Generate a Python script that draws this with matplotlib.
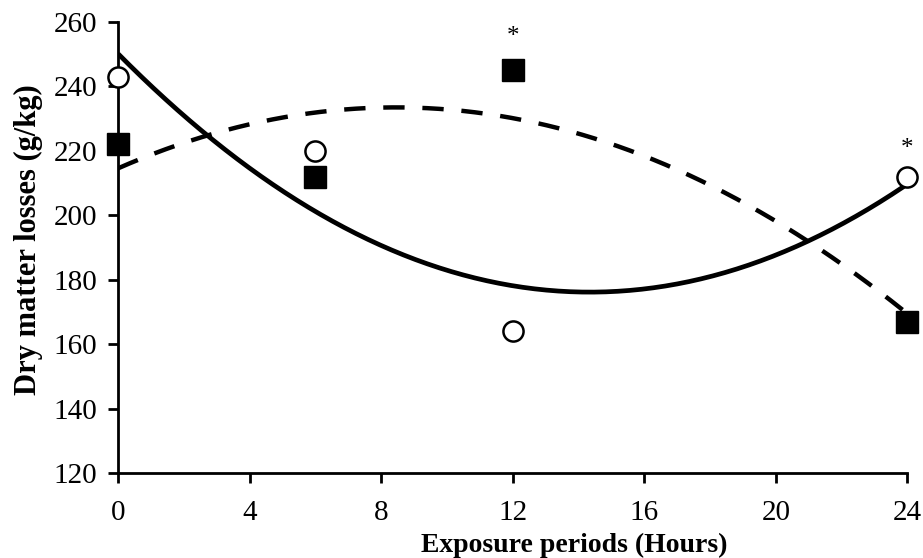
import numpy as np
import matplotlib
matplotlib.use('Agg')
import matplotlib.pyplot as plt

plt.rcParams['font.family'] = ['Liberation Serif', 'DejaVu Serif']

# 暴露时间（小时）
hours = [0, 6, 12, 24]
# 空心圆组
circle_vals = [243, 220, 164, 212]
# 实心方块组
square_vals = [222, 212, 245, 167]
# 显著性标记 (x, 所属序列)
star_hours = [12, 24]
star_series = ['square', 'circle']

fig = plt.figure(figsize=(9.23, 5.58), dpi=100)
ax = fig.add_axes([0.128, 0.152, 0.855, 0.809])

# 二次多项式趋势线
xx = np.linspace(0, 24, 200)
pc = np.polyfit(hours, circle_vals, 2)
ps = np.polyfit(hours, square_vals, 2)
ax.plot(xx, np.polyval(pc, xx), color='black', lw=3.4, solid_capstyle='butt', zorder=2)
ax.plot(xx, np.polyval(ps, xx), color='black', lw=3.2, dashes=(4.8, 4.0), zorder=2)

ax.plot(hours, square_vals, 's', ms=16, color='black', mec='black', zorder=3, clip_on=False)
ax.plot(hours, circle_vals, 'o', ms=14.5, mfc='white', mec='black', mew=1.8, zorder=3, clip_on=False)

for h, s in zip(star_hours, star_series):
    vals = square_vals if s == 'square' else circle_vals
    off = 7 if s == 'square' else 5
    y = vals[hours.index(h)]
    ax.text(h, y + off, '*', ha='center', va='bottom', fontsize=18)

ax.set_xlim(0, 24)
ax.set_ylim(120, 260)
ax.set_xticks(range(0, 25, 4))
ax.set_yticks(range(120, 261, 20))
for side in ['top', 'right']:
    ax.spines[side].set_visible(False)
for side in ['left', 'bottom']:
    ax.spines[side].set_linewidth(2)
ax.tick_params(direction='out', length=7, width=2, labelsize=21)
ax.tick_params(axis='x', pad=12)
ax.tick_params(axis='y', pad=8)

ax.set_xlabel('Exposure periods (Hours)', fontsize=20, fontweight='bold', va='center')
ax.xaxis.set_label_coords(0.578, -0.16)
ax.set_ylabel('Dry matter losses (g/kg)', fontsize=22, fontweight='bold', va='center')
ax.yaxis.set_label_coords(-0.114, 0.517)

fig.savefig('out.png', dpi=100)
